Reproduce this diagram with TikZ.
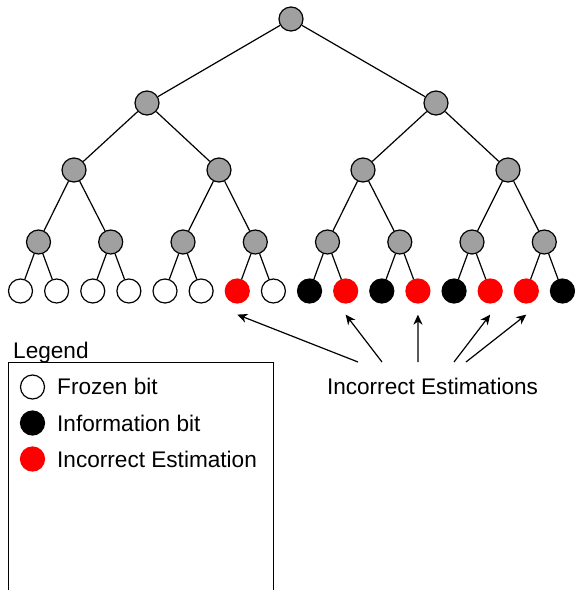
\documentclass[tikz,border=0pt]{standalone}
\usepackage{fontspec}
\setmainfont{Liberation Sans}
\usetikzlibrary{arrows.meta}
\definecolor{innergrey}{HTML}{A0A0A0}
\definecolor{errred}{HTML}{FF0000}
\begin{document}
\begin{tikzpicture}[x=1pt,y=-1pt,
  bit/.style={circle,draw=black,line width=1.2pt,minimum size=24pt,inner sep=0pt},
  inner/.style={bit,fill=innergrey},
  frozen/.style={bit,fill=white},
  info/.style={bit,fill=black},
  wrong/.style={bit,fill=errred,draw=errred},
  edge/.style={line width=1.2pt},
  pointer/.style={line width=1.2pt,-{Stealth[length=10pt,width=9pt,inset=3pt]}},
  txt/.style={font=\fontsize{22.6}{27}\selectfont,inner sep=0pt}
]
\useasboundingbox (0,0) rectangle (575,590);

% decoding tree
\node[inner] (r) at (291,19) {};
\node[inner] (a1) at (147,103) {};
\node[inner] (a2) at (436,103) {};
\foreach \i/\x in {1/74,2/219,3/363,4/508}
  \node[inner] (b\i) at (\x,170) {};
\foreach \i/\x in {1/38.5,2/110.7,3/183,4/255.3,5/327.5,6/399.8,7/472,8/544.3}
  \node[inner] (c\i) at (\x,242) {};
\foreach \i/\s in {1/frozen,2/frozen,3/frozen,4/frozen,5/frozen,6/frozen,7/wrong,8/frozen,
                   9/info,10/wrong,11/info,12/wrong,13/info,14/wrong,15/wrong,16/info}
  \node[\s] (l\i) at ({20.5+36.13*(\i-1)},291) {};

\draw[edge] (r) -- (a1);
\draw[edge] (r) -- (a2);
\draw[edge] (a1) -- (b1);
\draw[edge] (a1) -- (b2);
\draw[edge] (a2) -- (b3);
\draw[edge] (a2) -- (b4);
\foreach \p/\k in {1/1,1/2,2/3,2/4,3/5,3/6,4/7,4/8}
  \draw[edge] (b\p) -- (c\k);
\foreach \p/\k in {1/1,1/2,2/3,2/4,3/5,3/6,4/7,4/8,5/9,5/10,6/11,6/12,7/13,7/14,8/15,8/16}
  \draw[edge] (c\p) -- (l\k);

% pointers to the wrongly estimated bits
\node[txt,anchor=base] (est) at (432.5,394) {Incorrect Estimations};
\foreach \k/\tx in {7/358,10/382,12/418,14/454,15/466} {
  \coordinate (s\k) at (\tx,362);
  \coordinate (e\k) at ([yshift=-11pt]l\k.south);
  \draw[pointer] (s\k) -- (e\k);
}

% legend
\node[txt,anchor=base west] (legtitle) at (13,358) {Legend};
\draw[line width=1pt] (8,592) -- (8,362) -- (273,362) -- (273,592);
\node[frozen] (k1) at (32.5,387) {};
\node[info] (k2) at (32.5,423) {};
\node[wrong] (k3) at (32.5,459) {};
\node[txt,anchor=base west] (t1) at (57,394) {Frozen bit};
\node[txt,anchor=base west] (t2) at (57,431) {Information bit};
\node[txt,anchor=base west] (t3) at (57,467) {Incorrect Estimation};
\end{tikzpicture}
\end{document}
